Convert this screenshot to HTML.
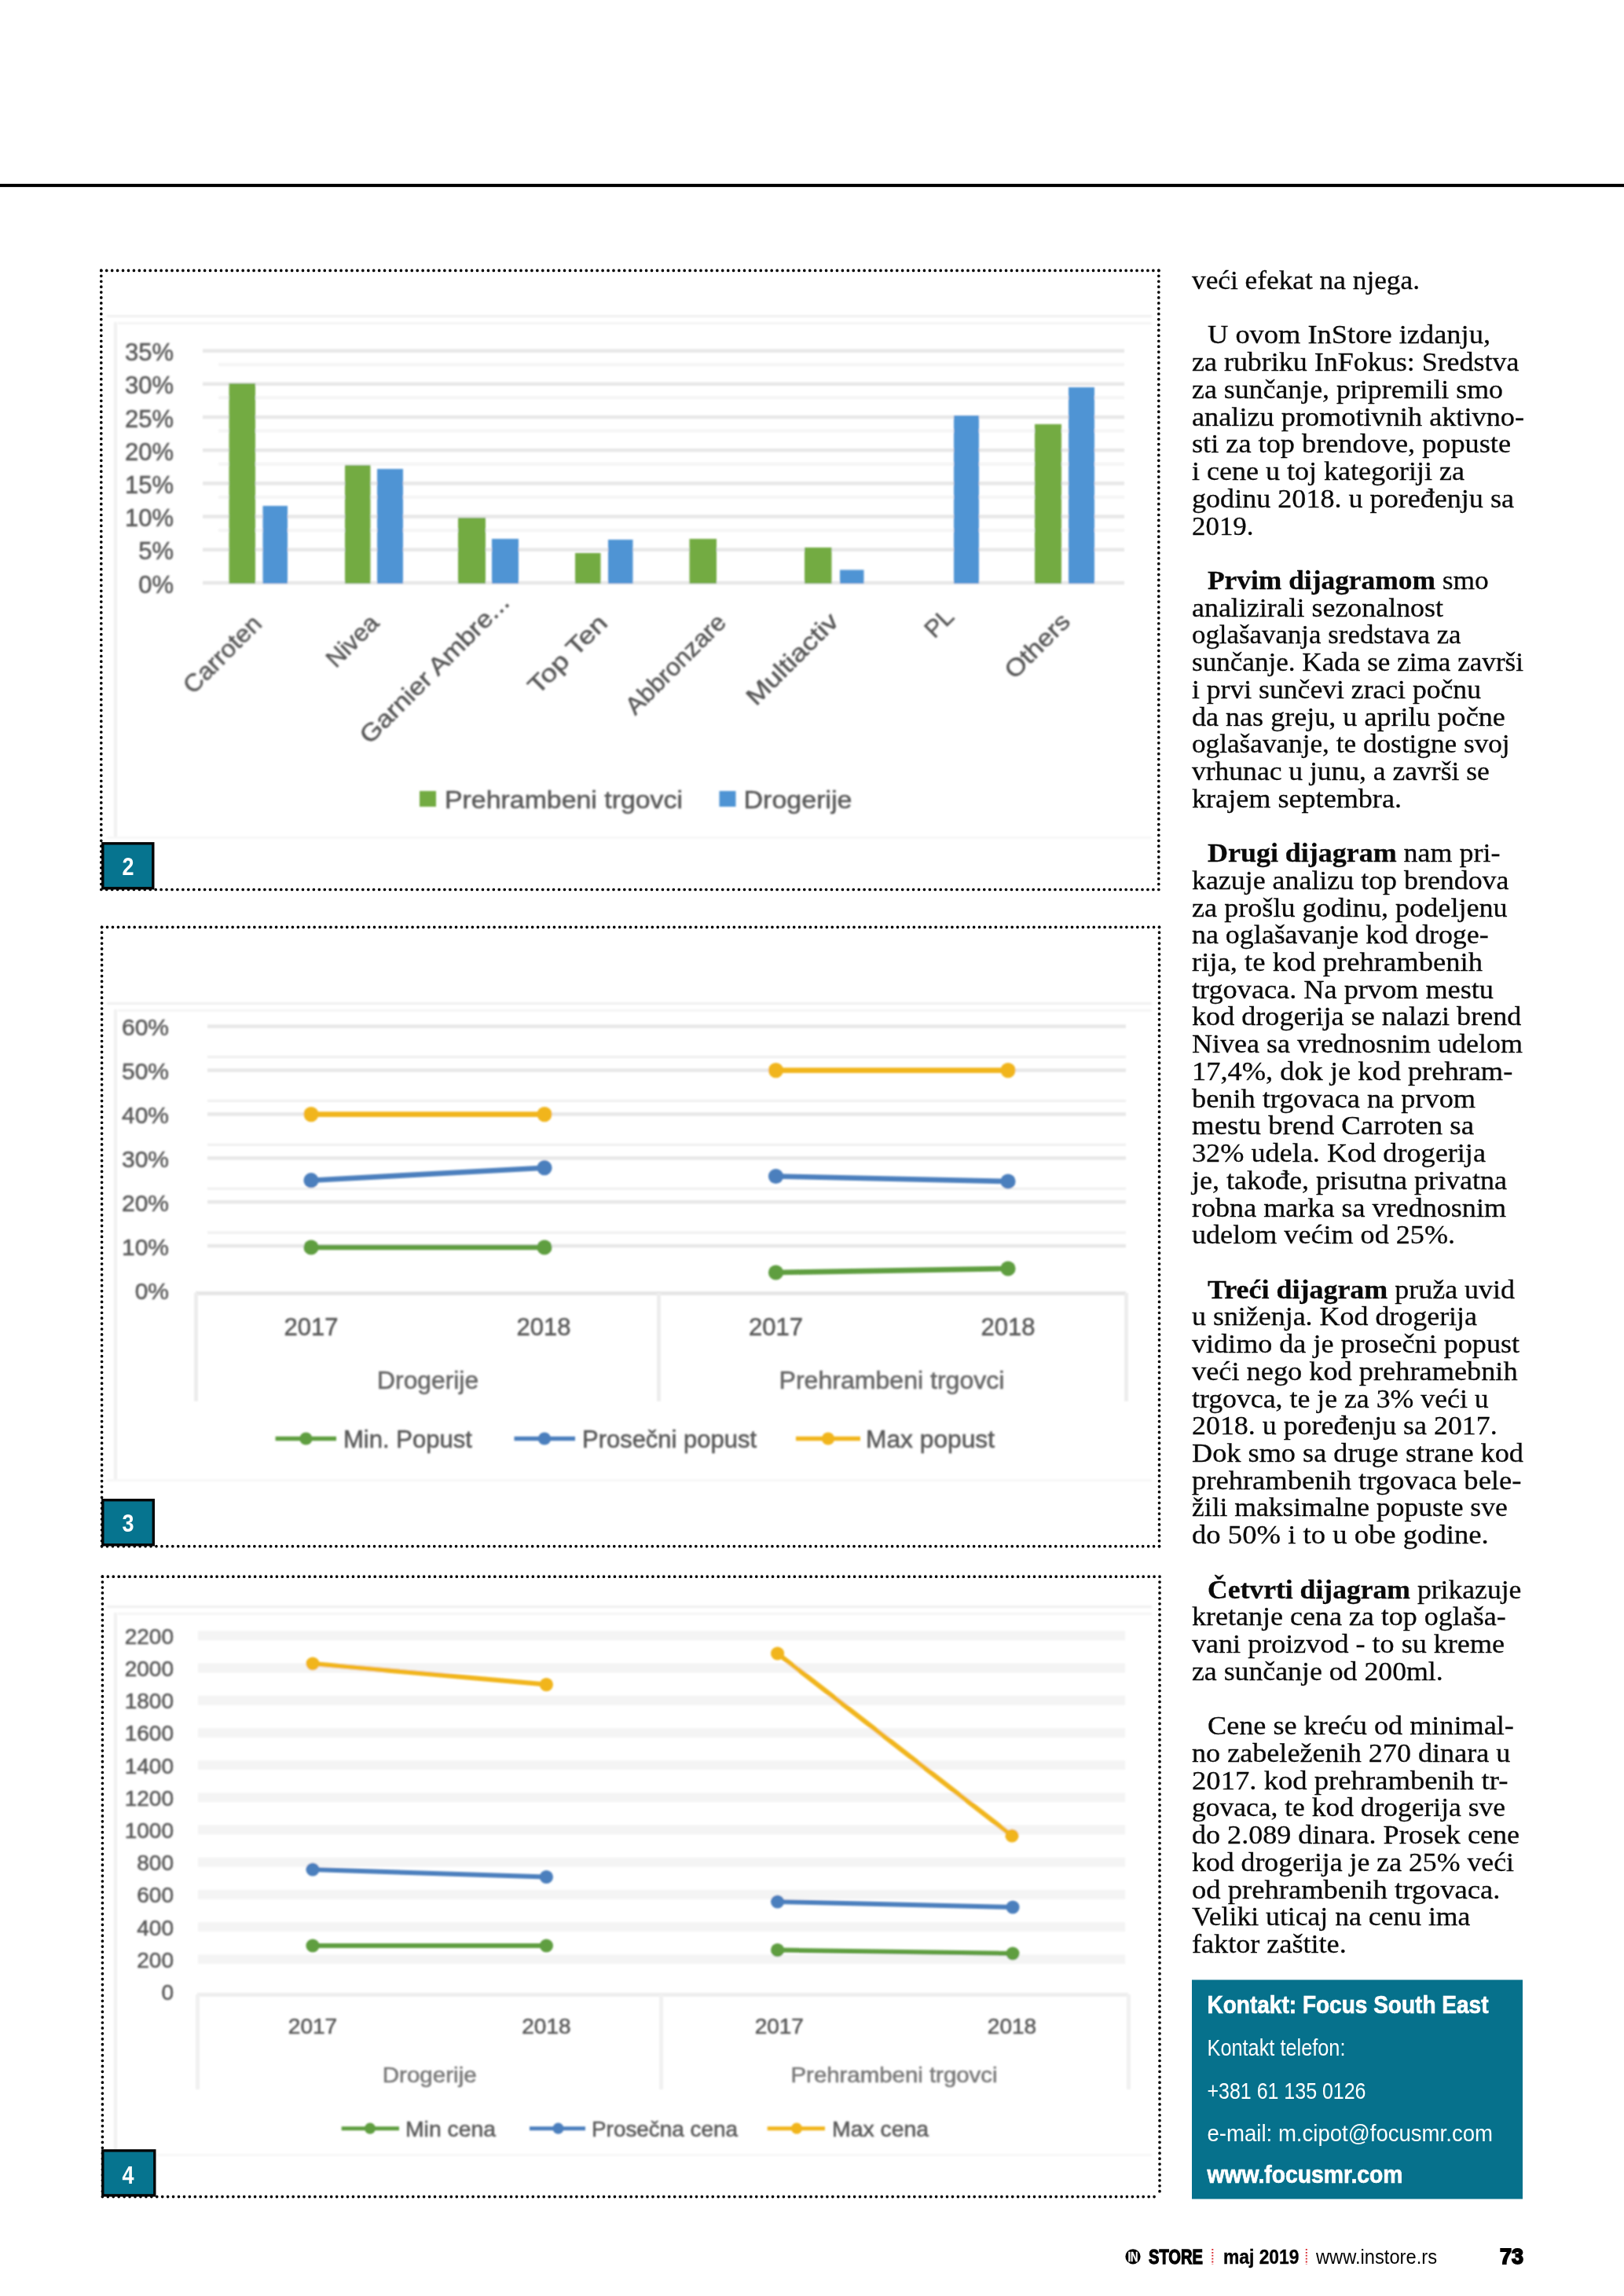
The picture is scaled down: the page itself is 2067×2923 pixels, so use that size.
<!DOCTYPE html>
<html lang="sr">
<head>
<meta charset="utf-8">
<title>InStore maj 2019 - InFokus: Sredstva za sunčanje</title>
<style>
html,body{margin:0;padding:0;background:#fff;}
html{width:2067px;height:2923px;}
body{width:2067px;height:2923px;position:relative;}
svg{position:absolute;left:0;top:0;display:block;}
.ss{font-family:'Liberation Sans', sans-serif;}
.sf{font-family:'Liberation Serif', serif;}
</style>
</head>
<body>
<svg width="2067" height="2923" viewBox="0 0 2067 2923">
<defs>
<filter id="bl" x="-2%" y="-2%" width="104%" height="104%"><feGaussianBlur stdDeviation="1.1"/></filter>
<filter id="bt" x="-2%" y="-2%" width="104%" height="104%"><feGaussianBlur stdDeviation="0.9"/></filter>
</defs>
<rect x="0" y="0" width="2067" height="2923" fill="#fff"/>
<rect x="0" y="234" width="2067" height="4.1" fill="#000"/>

<g filter="url(#bl)">
<rect x="136" y="401" width="1330" height="3" fill="#f0f0f0"/><rect x="150" y="410" width="1316" height="3" fill="#f4f4f4"/><rect x="145" y="410" width="4" height="655" fill="#f1f1f1"/><rect x="136" y="1065" width="1330" height="3" fill="#f7f7f7"/>
<rect x="258" y="739.8" width="1173" height="4.4" fill="#e7e7e7"/>
<rect x="258" y="697.6" width="1173" height="4.4" fill="#e7e7e7"/>
<rect x="258" y="655.4" width="1173" height="4.4" fill="#e7e7e7"/>
<rect x="258" y="613.2" width="1173" height="4.4" fill="#e7e7e7"/>
<rect x="258" y="571.0" width="1173" height="4.4" fill="#e7e7e7"/>
<rect x="258" y="528.8" width="1173" height="4.4" fill="#e7e7e7"/>
<rect x="258" y="486.6" width="1173" height="4.4" fill="#e7e7e7"/>
<rect x="258" y="444.4" width="1173" height="4.4" fill="#e7e7e7"/>
<rect x="278" y="673.1" width="1153" height="4" fill="#f5f5f5"/>
<rect x="278" y="630.9" width="1153" height="4" fill="#f5f5f5"/>
<rect x="278" y="588.7" width="1153" height="4" fill="#f5f5f5"/>
<rect x="278" y="546.5" width="1153" height="4" fill="#f5f5f5"/>
<rect x="278" y="504.3" width="1153" height="4" fill="#f5f5f5"/>
<rect x="278" y="462.1" width="1153" height="4" fill="#f5f5f5"/>
<rect x="291.5" y="488" width="33.5" height="255.0" fill="#73ab42"/>
<rect x="334.5" y="644" width="31.5" height="99.0" fill="#4f94d4"/>
<rect x="439" y="592" width="32.5" height="151.0" fill="#73ab42"/>
<rect x="480" y="597" width="33.0" height="146.0" fill="#4f94d4"/>
<rect x="583" y="659" width="35.0" height="84.0" fill="#73ab42"/>
<rect x="626" y="686" width="34.0" height="57.0" fill="#4f94d4"/>
<rect x="732" y="704" width="32.5" height="39.0" fill="#73ab42"/>
<rect x="774" y="687" width="31.5" height="56.0" fill="#4f94d4"/>
<rect x="877.5" y="686" width="34.5" height="57.0" fill="#73ab42"/>
<rect x="1024" y="697" width="34.5" height="46.0" fill="#73ab42"/>
<rect x="1069" y="725.5" width="30.5" height="17.5" fill="#4f94d4"/>
<rect x="1214" y="529" width="32.0" height="214.0" fill="#4f94d4"/>
<rect x="1317" y="540" width="34.0" height="203.0" fill="#73ab42"/>
<rect x="1360" y="493" width="33.0" height="250.0" fill="#4f94d4"/>
</g>
<g filter="url(#bt)">
<text class="ss" x="221.0" y="754.5" font-size="31" fill="#595959" text-anchor="end" stroke="#595959" stroke-width="0.55">0%</text>
<text class="ss" x="221.0" y="712.3" font-size="31" fill="#595959" text-anchor="end" stroke="#595959" stroke-width="0.55">5%</text>
<text class="ss" x="221.0" y="670.1" font-size="31" fill="#595959" text-anchor="end" stroke="#595959" stroke-width="0.55">10%</text>
<text class="ss" x="221.0" y="627.9" font-size="31" fill="#595959" text-anchor="end" stroke="#595959" stroke-width="0.55">15%</text>
<text class="ss" x="221.0" y="585.7" font-size="31" fill="#595959" text-anchor="end" stroke="#595959" stroke-width="0.55">20%</text>
<text class="ss" x="221.0" y="543.5" font-size="31" fill="#595959" text-anchor="end" stroke="#595959" stroke-width="0.55">25%</text>
<text class="ss" x="221.0" y="501.3" font-size="31" fill="#595959" text-anchor="end" stroke="#595959" stroke-width="0.55">30%</text>
<text class="ss" x="221.0" y="459.1" font-size="31" fill="#595959" text-anchor="end" stroke="#595959" stroke-width="0.55">35%</text>
<text class="ss" font-size="31" fill="#595959" stroke="#595959" stroke-width="0.55" x="-126" y="0" textLength="126" lengthAdjust="spacingAndGlyphs" transform="translate(335 796) rotate(-45)">Carroten</text>
<text class="ss" font-size="31" fill="#595959" stroke="#595959" stroke-width="0.55" x="-80" y="0" textLength="80" lengthAdjust="spacingAndGlyphs" transform="translate(484 795) rotate(-45)">Nivea</text>
<text class="ss" font-size="31" fill="#595959" stroke="#595959" stroke-width="0.55" x="-254" y="0" textLength="254" lengthAdjust="spacingAndGlyphs" transform="translate(650 769) rotate(-45)">Garnier Ambre...</text>
<text class="ss" font-size="31" fill="#595959" stroke="#595959" stroke-width="0.55" x="-128" y="0" textLength="128" lengthAdjust="spacingAndGlyphs" transform="translate(775 795) rotate(-45)">Top Ten</text>
<text class="ss" font-size="31" fill="#595959" stroke="#595959" stroke-width="0.55" x="-166" y="0" textLength="166" lengthAdjust="spacingAndGlyphs" transform="translate(926 794) rotate(-45)">Abbronzare</text>
<text class="ss" font-size="31" fill="#595959" stroke="#595959" stroke-width="0.55" x="-151" y="0" textLength="151" lengthAdjust="spacingAndGlyphs" transform="translate(1069 793) rotate(-45)">Multiactiv</text>
<text class="ss" font-size="31" fill="#595959" stroke="#595959" stroke-width="0.55" x="-38" y="0" textLength="38" lengthAdjust="spacingAndGlyphs" transform="translate(1216 787) rotate(-45)">PL</text>
<text class="ss" font-size="31" fill="#595959" stroke="#595959" stroke-width="0.55" x="-103" y="0" textLength="103" lengthAdjust="spacingAndGlyphs" transform="translate(1364 793) rotate(-45)">Others</text>
<rect x="534" y="1007" width="21" height="20" fill="#73ab42"/>
<text class="ss" x="566.0" y="1029.0" font-size="32" fill="#595959" textLength="303.0" lengthAdjust="spacingAndGlyphs" stroke="#595959" stroke-width="0.55">Prehrambeni trgovci</text>
<rect x="915.5" y="1007" width="21" height="20" fill="#4f94d4"/>
<text class="ss" x="946.5" y="1029.0" font-size="32" fill="#595959" textLength="138.0" lengthAdjust="spacingAndGlyphs" stroke="#595959" stroke-width="0.55">Drogerije</text>
</g>
<g filter="url(#bl)">
<rect x="136" y="1276" width="1330" height="3" fill="#f0f0f0"/><rect x="150" y="1285" width="1316" height="3" fill="#f4f4f4"/><rect x="145" y="1285" width="4" height="598" fill="#f1f1f1"/><rect x="136" y="1883" width="1330" height="3" fill="#f7f7f7"/>
<rect x="264" y="1583.9" width="1169" height="4.4" fill="#e7e7e7"/>
<rect x="264" y="1528.0" width="1169" height="4.4" fill="#e7e7e7"/>
<rect x="264" y="1472.1" width="1169" height="4.4" fill="#e7e7e7"/>
<rect x="264" y="1416.2" width="1169" height="4.4" fill="#e7e7e7"/>
<rect x="264" y="1360.3" width="1169" height="4.4" fill="#e7e7e7"/>
<rect x="264" y="1304.4" width="1169" height="4.4" fill="#e7e7e7"/>
<rect x="264" y="1567.6" width="1169" height="3" fill="#efefef"/>
<rect x="264" y="1511.7" width="1169" height="3" fill="#efefef"/>
<rect x="264" y="1455.8" width="1169" height="3" fill="#efefef"/>
<rect x="264" y="1399.9" width="1169" height="3" fill="#efefef"/>
<rect x="264" y="1344.0" width="1169" height="3" fill="#efefef"/>
<rect x="249" y="1644.0" width="1184" height="5" fill="#e6e6e6"/>
<rect x="247" y="1646" width="5" height="138" fill="#ededed"/>
<rect x="836" y="1646" width="5" height="138" fill="#ededed"/>
<rect x="1431" y="1646" width="5" height="138" fill="#ededed"/>
<line x1="396" y1="1418.6" x2="693" y2="1418.6" stroke="#f1b51c" stroke-width="6.6" stroke-linecap="round"/>
<circle cx="396" cy="1418.6" r="9.6" fill="#f1b51c"/><circle cx="693" cy="1418.6" r="9.6" fill="#f1b51c"/>
<line x1="396" y1="1502.7" x2="693" y2="1486.7" stroke="#4b7fbd" stroke-width="6.6" stroke-linecap="round"/>
<circle cx="396" cy="1502.7" r="9.6" fill="#4b7fbd"/><circle cx="693" cy="1486.7" r="9.6" fill="#4b7fbd"/>
<line x1="396" y1="1588" x2="693" y2="1588" stroke="#5f9e40" stroke-width="6.6" stroke-linecap="round"/>
<circle cx="396" cy="1588" r="9.6" fill="#5f9e40"/><circle cx="693" cy="1588" r="9.6" fill="#5f9e40"/>
<line x1="987.5" y1="1362.6" x2="1283" y2="1362.6" stroke="#f1b51c" stroke-width="6.6" stroke-linecap="round"/>
<circle cx="987.5" cy="1362.6" r="9.6" fill="#f1b51c"/><circle cx="1283" cy="1362.6" r="9.6" fill="#f1b51c"/>
<line x1="987.5" y1="1497.5" x2="1283" y2="1504" stroke="#4b7fbd" stroke-width="6.6" stroke-linecap="round"/>
<circle cx="987.5" cy="1497.5" r="9.6" fill="#4b7fbd"/><circle cx="1283" cy="1504" r="9.6" fill="#4b7fbd"/>
<line x1="987.5" y1="1620" x2="1283" y2="1615" stroke="#5f9e40" stroke-width="6.6" stroke-linecap="round"/>
<circle cx="987.5" cy="1620" r="9.6" fill="#5f9e40"/><circle cx="1283" cy="1615" r="9.6" fill="#5f9e40"/>
<line x1="350.6" y1="1831.5" x2="428" y2="1831.5" stroke="#5f9e40" stroke-width="5.6"/>
<circle cx="389.4" cy="1831.5" r="8.1" fill="#5f9e40"/>
<line x1="654.5" y1="1831.5" x2="732" y2="1831.5" stroke="#4b7fbd" stroke-width="5.6"/>
<circle cx="693" cy="1831.5" r="8.1" fill="#4b7fbd"/>
<line x1="1013" y1="1831.5" x2="1095" y2="1831.5" stroke="#f1b51c" stroke-width="5.6"/>
<circle cx="1054" cy="1831.5" r="8.1" fill="#f1b51c"/>
</g>
<g filter="url(#bt)">
<text class="ss" x="215.0" y="1653.5" font-size="30" fill="#595959" text-anchor="end" stroke="#595959" stroke-width="0.55">0%</text>
<text class="ss" x="215.0" y="1597.6" font-size="30" fill="#595959" text-anchor="end" stroke="#595959" stroke-width="0.55">10%</text>
<text class="ss" x="215.0" y="1541.7" font-size="30" fill="#595959" text-anchor="end" stroke="#595959" stroke-width="0.55">20%</text>
<text class="ss" x="215.0" y="1485.8" font-size="30" fill="#595959" text-anchor="end" stroke="#595959" stroke-width="0.55">30%</text>
<text class="ss" x="215.0" y="1429.9" font-size="30" fill="#595959" text-anchor="end" stroke="#595959" stroke-width="0.55">40%</text>
<text class="ss" x="215.0" y="1374.0" font-size="30" fill="#595959" text-anchor="end" stroke="#595959" stroke-width="0.55">50%</text>
<text class="ss" x="215.0" y="1318.1" font-size="30" fill="#595959" text-anchor="end" stroke="#595959" stroke-width="0.55">60%</text>
<text class="ss" x="396.0" y="1700.0" font-size="31" fill="#595959" text-anchor="middle" stroke="#595959" stroke-width="0.55">2017</text>
<text class="ss" x="692.0" y="1700.0" font-size="31" fill="#595959" text-anchor="middle" stroke="#595959" stroke-width="0.55">2018</text>
<text class="ss" x="987.5" y="1700.0" font-size="31" fill="#595959" text-anchor="middle" stroke="#595959" stroke-width="0.55">2017</text>
<text class="ss" x="1283.0" y="1700.0" font-size="31" fill="#595959" text-anchor="middle" stroke="#595959" stroke-width="0.55">2018</text>
<text class="ss" x="480.1" y="1768.0" font-size="31" fill="#666" textLength="129.0" lengthAdjust="spacingAndGlyphs" stroke="#666" stroke-width="0.55">Drogerije</text>
<text class="ss" x="991.5" y="1768.0" font-size="31" fill="#666" textLength="287.0" lengthAdjust="spacingAndGlyphs" stroke="#666" stroke-width="0.55">Prehrambeni trgovci</text>
<text class="ss" x="437.0" y="1842.7" font-size="31" fill="#595959" textLength="164.0" lengthAdjust="spacingAndGlyphs" stroke="#595959" stroke-width="0.55">Min. Popust</text>
<text class="ss" x="741.0" y="1842.7" font-size="31" fill="#595959" textLength="222.0" lengthAdjust="spacingAndGlyphs" stroke="#595959" stroke-width="0.55">Prosečni popust</text>
<text class="ss" x="1102.0" y="1842.7" font-size="31" fill="#595959" textLength="164.0" lengthAdjust="spacingAndGlyphs" stroke="#595959" stroke-width="0.55">Max popust</text>
</g>
<g filter="url(#bl)">
<rect x="136" y="2044" width="1330" height="3" fill="#f0f0f0"/><rect x="150" y="2053" width="1316" height="3" fill="#f4f4f4"/><rect x="145" y="2053" width="4" height="689" fill="#f1f1f1"/><rect x="136" y="2742" width="1330" height="3" fill="#f7f7f7"/>
<rect x="252" y="2488.3" width="1180" height="12" fill="#f4f4f4"/>
<rect x="252" y="2447.1" width="1180" height="12" fill="#f4f4f4"/>
<rect x="252" y="2405.9" width="1180" height="12" fill="#f4f4f4"/>
<rect x="252" y="2364.7" width="1180" height="12" fill="#f4f4f4"/>
<rect x="252" y="2323.5" width="1180" height="12" fill="#f4f4f4"/>
<rect x="252" y="2282.3" width="1180" height="12" fill="#f4f4f4"/>
<rect x="252" y="2241.1" width="1180" height="12" fill="#f4f4f4"/>
<rect x="252" y="2199.9" width="1180" height="12" fill="#f4f4f4"/>
<rect x="252" y="2158.7" width="1180" height="12" fill="#f4f4f4"/>
<rect x="252" y="2117.5" width="1180" height="12" fill="#f4f4f4"/>
<rect x="252" y="2076.3" width="1180" height="12" fill="#f4f4f4"/>
<rect x="251" y="2537.0" width="1185" height="5" fill="#eeeeee"/>
<rect x="249" y="2539" width="5" height="121" fill="#f1f1f1"/>
<rect x="839" y="2539" width="5" height="121" fill="#f1f1f1"/>
<rect x="1434" y="2539" width="5" height="121" fill="#f1f1f1"/>
<line x1="398" y1="2118" x2="695.4" y2="2144.6" stroke="#f1b51c" stroke-width="6" stroke-linecap="round"/>
<circle cx="398" cy="2118" r="8.6" fill="#f1b51c"/><circle cx="695.4" cy="2144.6" r="8.6" fill="#f1b51c"/>
<line x1="398" y1="2380" x2="695.4" y2="2389.5" stroke="#4b7fbd" stroke-width="6" stroke-linecap="round"/>
<circle cx="398" cy="2380" r="8.6" fill="#4b7fbd"/><circle cx="695.4" cy="2389.5" r="8.6" fill="#4b7fbd"/>
<line x1="398" y1="2477" x2="695.4" y2="2477" stroke="#5f9e40" stroke-width="6" stroke-linecap="round"/>
<circle cx="398" cy="2477" r="8.6" fill="#5f9e40"/><circle cx="695.4" cy="2477" r="8.6" fill="#5f9e40"/>
<line x1="989.6" y1="2105" x2="1288" y2="2337" stroke="#f1b51c" stroke-width="6" stroke-linecap="round"/>
<circle cx="989.6" cy="2105" r="8.6" fill="#f1b51c"/><circle cx="1288" cy="2337" r="8.6" fill="#f1b51c"/>
<line x1="989.6" y1="2421" x2="1289" y2="2428" stroke="#4b7fbd" stroke-width="6" stroke-linecap="round"/>
<circle cx="989.6" cy="2421" r="8.6" fill="#4b7fbd"/><circle cx="1289" cy="2428" r="8.6" fill="#4b7fbd"/>
<line x1="989.6" y1="2482.6" x2="1289" y2="2487" stroke="#5f9e40" stroke-width="6" stroke-linecap="round"/>
<circle cx="989.6" cy="2482.6" r="8.6" fill="#5f9e40"/><circle cx="1289" cy="2487" r="8.6" fill="#5f9e40"/>
<line x1="434.7" y1="2709.7" x2="508" y2="2709.7" stroke="#5f9e40" stroke-width="5"/>
<circle cx="471" cy="2709.7" r="7.1" fill="#5f9e40"/>
<line x1="674" y1="2709.7" x2="745" y2="2709.7" stroke="#4b7fbd" stroke-width="5"/>
<circle cx="710.5" cy="2709.7" r="7.1" fill="#4b7fbd"/>
<line x1="976.7" y1="2709.7" x2="1050" y2="2709.7" stroke="#f1b51c" stroke-width="5"/>
<circle cx="1014" cy="2709.7" r="7.1" fill="#f1b51c"/>
</g>
<g filter="url(#bt)">
<text class="ss" x="221.0" y="2546.0" font-size="28" fill="#595959" text-anchor="end" stroke="#595959" stroke-width="0.55">0</text>
<text class="ss" x="221.0" y="2504.8" font-size="28" fill="#595959" text-anchor="end" stroke="#595959" stroke-width="0.55">200</text>
<text class="ss" x="221.0" y="2463.6" font-size="28" fill="#595959" text-anchor="end" stroke="#595959" stroke-width="0.55">400</text>
<text class="ss" x="221.0" y="2422.4" font-size="28" fill="#595959" text-anchor="end" stroke="#595959" stroke-width="0.55">600</text>
<text class="ss" x="221.0" y="2381.2" font-size="28" fill="#595959" text-anchor="end" stroke="#595959" stroke-width="0.55">800</text>
<text class="ss" x="221.0" y="2340.0" font-size="28" fill="#595959" text-anchor="end" stroke="#595959" stroke-width="0.55">1000</text>
<text class="ss" x="221.0" y="2298.8" font-size="28" fill="#595959" text-anchor="end" stroke="#595959" stroke-width="0.55">1200</text>
<text class="ss" x="221.0" y="2257.6" font-size="28" fill="#595959" text-anchor="end" stroke="#595959" stroke-width="0.55">1400</text>
<text class="ss" x="221.0" y="2216.4" font-size="28" fill="#595959" text-anchor="end" stroke="#595959" stroke-width="0.55">1600</text>
<text class="ss" x="221.0" y="2175.2" font-size="28" fill="#595959" text-anchor="end" stroke="#595959" stroke-width="0.55">1800</text>
<text class="ss" x="221.0" y="2134.0" font-size="28" fill="#595959" text-anchor="end" stroke="#595959" stroke-width="0.55">2000</text>
<text class="ss" x="221.0" y="2092.8" font-size="28" fill="#595959" text-anchor="end" stroke="#595959" stroke-width="0.55">2200</text>
<text class="ss" x="398.0" y="2589.0" font-size="28" fill="#595959" text-anchor="middle" stroke="#595959" stroke-width="0.55">2017</text>
<text class="ss" x="695.4" y="2589.0" font-size="28" fill="#595959" text-anchor="middle" stroke="#595959" stroke-width="0.55">2018</text>
<text class="ss" x="991.8" y="2589.0" font-size="28" fill="#595959" text-anchor="middle" stroke="#595959" stroke-width="0.55">2017</text>
<text class="ss" x="1288.0" y="2589.0" font-size="28" fill="#595959" text-anchor="middle" stroke="#595959" stroke-width="0.55">2018</text>
<text class="ss" x="486.7" y="2651.0" font-size="28" fill="#787878" textLength="120.0" lengthAdjust="spacingAndGlyphs" stroke="#787878" stroke-width="0.55">Drogerije</text>
<text class="ss" x="1006.5" y="2651.0" font-size="28" fill="#787878" textLength="263.0" lengthAdjust="spacingAndGlyphs" stroke="#787878" stroke-width="0.55">Prehrambeni trgovci</text>
<text class="ss" x="516.0" y="2719.8" font-size="28" fill="#595959" textLength="115.0" lengthAdjust="spacingAndGlyphs" stroke="#595959" stroke-width="0.55">Min cena</text>
<text class="ss" x="753.0" y="2719.8" font-size="28" fill="#595959" textLength="186.0" lengthAdjust="spacingAndGlyphs" stroke="#595959" stroke-width="0.55">Prosečna cena</text>
<text class="ss" x="1059.0" y="2719.8" font-size="28" fill="#595959" textLength="123.0" lengthAdjust="spacingAndGlyphs" stroke="#595959" stroke-width="0.55">Max cena</text>
</g>
<line x1="128.8" y1="344.4" x2="1474.8" y2="344.4" stroke="#000" stroke-width="3.7" stroke-linecap="round" stroke-dasharray="0 6.9381"/>
<line x1="128.8" y1="1132.5" x2="1474.8" y2="1132.5" stroke="#000" stroke-width="3.7" stroke-linecap="round" stroke-dasharray="0 6.9381"/>
<line x1="128.8" y1="344.4" x2="128.8" y2="1132.5" stroke="#000" stroke-width="3.7" stroke-linecap="round" stroke-dasharray="0 6.9132"/>
<line x1="1474.8" y1="344.4" x2="1474.8" y2="1132.5" stroke="#000" stroke-width="3.7" stroke-linecap="round" stroke-dasharray="0 6.9132"/>
<line x1="129.6" y1="1180.3" x2="1475.5" y2="1180.3" stroke="#000" stroke-width="3.7" stroke-linecap="round" stroke-dasharray="0 6.9376"/>
<line x1="129.6" y1="1968.6" x2="1475.5" y2="1968.6" stroke="#000" stroke-width="3.7" stroke-linecap="round" stroke-dasharray="0 6.9376"/>
<line x1="129.6" y1="1180.3" x2="129.6" y2="1968.6" stroke="#000" stroke-width="3.7" stroke-linecap="round" stroke-dasharray="0 6.9149"/>
<line x1="1475.5" y1="1180.3" x2="1475.5" y2="1968.6" stroke="#000" stroke-width="3.7" stroke-linecap="round" stroke-dasharray="0 6.9149"/>
<line x1="130.4" y1="2007.2" x2="1476.0" y2="2007.2" stroke="#000" stroke-width="3.7" stroke-linecap="round" stroke-dasharray="0 6.9361"/>
<line x1="130.4" y1="2796.6" x2="1476.0" y2="2796.6" stroke="#000" stroke-width="3.7" stroke-linecap="round" stroke-dasharray="0 6.9361"/>
<line x1="130.4" y1="2007.2" x2="130.4" y2="2796.6" stroke="#000" stroke-width="3.7" stroke-linecap="round" stroke-dasharray="0 6.9246"/>
<line x1="1476.0" y1="2007.2" x2="1476.0" y2="2796.6" stroke="#000" stroke-width="3.7" stroke-linecap="round" stroke-dasharray="0 6.9246"/>
<rect x="130.8" y="1073.8" width="64" height="57" fill="#06748f" stroke="#050505" stroke-width="3.4"/>
<text class="ss" x="155.5" y="1113.6" font-size="31" font-weight="bold" fill="#fff" textLength="15.0" lengthAdjust="spacingAndGlyphs">2</text>
<rect x="130.8" y="1909.7" width="64.5" height="57" fill="#06748f" stroke="#050505" stroke-width="3.4"/>
<text class="ss" x="155.5" y="1949.6" font-size="31" font-weight="bold" fill="#fff" textLength="15.0" lengthAdjust="spacingAndGlyphs">3</text>
<rect x="130.8" y="2737.9" width="66" height="57" fill="#06748f" stroke="#050505" stroke-width="3.4"/>
<text class="ss" x="155.5" y="2780.0" font-size="31" font-weight="bold" fill="#fff" textLength="15.0" lengthAdjust="spacingAndGlyphs">4</text>
<g>
<text class="sf" x="1517.0" y="368.0" font-size="34" fill="#0a0a0a" textLength="290.0" lengthAdjust="spacingAndGlyphs" stroke="#0a0a0a" stroke-width="0.3">veći efekat na njega.</text>
<text class="sf" x="1537.0" y="437.4" font-size="34" fill="#0a0a0a" textLength="360.0" lengthAdjust="spacingAndGlyphs" stroke="#0a0a0a" stroke-width="0.3">U ovom InStore izdanju,</text>
<text class="sf" x="1517.0" y="472.2" font-size="34" fill="#0a0a0a" textLength="416.5" lengthAdjust="spacingAndGlyphs" stroke="#0a0a0a" stroke-width="0.3">za rubriku InFokus: Sredstva</text>
<text class="sf" x="1517.0" y="506.9" font-size="34" fill="#0a0a0a" textLength="396.0" lengthAdjust="spacingAndGlyphs" stroke="#0a0a0a" stroke-width="0.3">za sunčanje, pripremili smo</text>
<text class="sf" x="1517.0" y="541.6" font-size="34" fill="#0a0a0a" textLength="423.0" lengthAdjust="spacingAndGlyphs" stroke="#0a0a0a" stroke-width="0.3">analizu promotivnih aktivno-</text>
<text class="sf" x="1517.0" y="576.3" font-size="34" fill="#0a0a0a" textLength="406.0" lengthAdjust="spacingAndGlyphs" stroke="#0a0a0a" stroke-width="0.3">sti za top brendove, popuste</text>
<text class="sf" x="1517.0" y="611.0" font-size="34" fill="#0a0a0a" textLength="347.0" lengthAdjust="spacingAndGlyphs" stroke="#0a0a0a" stroke-width="0.3">i cene u toj kategoriji za</text>
<text class="sf" x="1517.0" y="645.8" font-size="34" fill="#0a0a0a" textLength="410.0" lengthAdjust="spacingAndGlyphs" stroke="#0a0a0a" stroke-width="0.3">godinu 2018. u poređenju sa</text>
<text class="sf" x="1517.0" y="680.5" font-size="34" fill="#0a0a0a" textLength="78.5" lengthAdjust="spacingAndGlyphs" stroke="#0a0a0a" stroke-width="0.3">2019.</text>
<text class="sf" x="1537.0" y="749.9" font-size="34" fill="#0a0a0a" textLength="357.7" lengthAdjust="spacingAndGlyphs" stroke="#0a0a0a" stroke-width="0.3"><tspan font-weight="bold">Prvim dijagramom</tspan> smo</text>
<text class="sf" x="1517.0" y="784.6" font-size="34" fill="#0a0a0a" textLength="320.0" lengthAdjust="spacingAndGlyphs" stroke="#0a0a0a" stroke-width="0.3">analizirali sezonalnost</text>
<text class="sf" x="1517.0" y="819.4" font-size="34" fill="#0a0a0a" textLength="342.6" lengthAdjust="spacingAndGlyphs" stroke="#0a0a0a" stroke-width="0.3">oglašavanja sredstava za</text>
<text class="sf" x="1517.0" y="854.1" font-size="34" fill="#0a0a0a" textLength="422.0" lengthAdjust="spacingAndGlyphs" stroke="#0a0a0a" stroke-width="0.3">sunčanje. Kada se zima završi</text>
<text class="sf" x="1517.0" y="888.8" font-size="34" fill="#0a0a0a" textLength="368.0" lengthAdjust="spacingAndGlyphs" stroke="#0a0a0a" stroke-width="0.3">i prvi sunčevi zraci počnu</text>
<text class="sf" x="1517.0" y="923.5" font-size="34" fill="#0a0a0a" textLength="398.7" lengthAdjust="spacingAndGlyphs" stroke="#0a0a0a" stroke-width="0.3">da nas greju, u aprilu počne</text>
<text class="sf" x="1517.0" y="958.2" font-size="34" fill="#0a0a0a" textLength="404.6" lengthAdjust="spacingAndGlyphs" stroke="#0a0a0a" stroke-width="0.3">oglašavanje, te dostigne svoj</text>
<text class="sf" x="1517.0" y="993.0" font-size="34" fill="#0a0a0a" textLength="378.8" lengthAdjust="spacingAndGlyphs" stroke="#0a0a0a" stroke-width="0.3">vrhunac u junu, a završi se</text>
<text class="sf" x="1517.0" y="1027.7" font-size="34" fill="#0a0a0a" textLength="267.0" lengthAdjust="spacingAndGlyphs" stroke="#0a0a0a" stroke-width="0.3">krajem septembra.</text>
<text class="sf" x="1537.0" y="1097.1" font-size="34" fill="#0a0a0a" textLength="372.4" lengthAdjust="spacingAndGlyphs" stroke="#0a0a0a" stroke-width="0.3"><tspan font-weight="bold">Drugi dijagram</tspan> nam pri-</text>
<text class="sf" x="1517.0" y="1131.8" font-size="34" fill="#0a0a0a" textLength="403.5" lengthAdjust="spacingAndGlyphs" stroke="#0a0a0a" stroke-width="0.3">kazuje analizu top brendova</text>
<text class="sf" x="1517.0" y="1166.6" font-size="34" fill="#0a0a0a" textLength="401.7" lengthAdjust="spacingAndGlyphs" stroke="#0a0a0a" stroke-width="0.3">za prošlu godinu, podeljenu</text>
<text class="sf" x="1517.0" y="1201.3" font-size="34" fill="#0a0a0a" textLength="377.7" lengthAdjust="spacingAndGlyphs" stroke="#0a0a0a" stroke-width="0.3">na oglašavanje kod droge-</text>
<text class="sf" x="1517.0" y="1236.0" font-size="34" fill="#0a0a0a" textLength="370.0" lengthAdjust="spacingAndGlyphs" stroke="#0a0a0a" stroke-width="0.3">rija, te kod prehrambenih</text>
<text class="sf" x="1517.0" y="1270.7" font-size="34" fill="#0a0a0a" textLength="384.0" lengthAdjust="spacingAndGlyphs" stroke="#0a0a0a" stroke-width="0.3">trgovaca. Na prvom mestu</text>
<text class="sf" x="1517.0" y="1305.4" font-size="34" fill="#0a0a0a" textLength="419.4" lengthAdjust="spacingAndGlyphs" stroke="#0a0a0a" stroke-width="0.3">kod drogerija se nalazi brend</text>
<text class="sf" x="1517.0" y="1340.2" font-size="34" fill="#0a0a0a" textLength="421.0" lengthAdjust="spacingAndGlyphs" stroke="#0a0a0a" stroke-width="0.3">Nivea sa vrednosnim udelom</text>
<text class="sf" x="1517.0" y="1374.9" font-size="34" fill="#0a0a0a" textLength="408.3" lengthAdjust="spacingAndGlyphs" stroke="#0a0a0a" stroke-width="0.3">17,4%, dok je kod prehram-</text>
<text class="sf" x="1517.0" y="1409.6" font-size="34" fill="#0a0a0a" textLength="361.0" lengthAdjust="spacingAndGlyphs" stroke="#0a0a0a" stroke-width="0.3">benih trgovaca na prvom</text>
<text class="sf" x="1517.0" y="1444.3" font-size="34" fill="#0a0a0a" textLength="359.0" lengthAdjust="spacingAndGlyphs" stroke="#0a0a0a" stroke-width="0.3">mestu brend Carroten sa</text>
<text class="sf" x="1517.0" y="1479.0" font-size="34" fill="#0a0a0a" textLength="374.0" lengthAdjust="spacingAndGlyphs" stroke="#0a0a0a" stroke-width="0.3">32% udela. Kod drogerija</text>
<text class="sf" x="1517.0" y="1513.8" font-size="34" fill="#0a0a0a" textLength="401.0" lengthAdjust="spacingAndGlyphs" stroke="#0a0a0a" stroke-width="0.3">je, takođe, prisutna privatna</text>
<text class="sf" x="1517.0" y="1548.5" font-size="34" fill="#0a0a0a" textLength="400.0" lengthAdjust="spacingAndGlyphs" stroke="#0a0a0a" stroke-width="0.3">robna marka sa vrednosnim</text>
<text class="sf" x="1517.0" y="1583.2" font-size="34" fill="#0a0a0a" textLength="335.0" lengthAdjust="spacingAndGlyphs" stroke="#0a0a0a" stroke-width="0.3">udelom većim od 25%.</text>
<text class="sf" x="1537.0" y="1652.6" font-size="34" fill="#0a0a0a" textLength="391.0" lengthAdjust="spacingAndGlyphs" stroke="#0a0a0a" stroke-width="0.3"><tspan font-weight="bold">Treći dijagram</tspan> pruža uvid</text>
<text class="sf" x="1517.0" y="1687.4" font-size="34" fill="#0a0a0a" textLength="363.0" lengthAdjust="spacingAndGlyphs" stroke="#0a0a0a" stroke-width="0.3">u sniženja. Kod drogerija</text>
<text class="sf" x="1517.0" y="1722.1" font-size="34" fill="#0a0a0a" textLength="417.0" lengthAdjust="spacingAndGlyphs" stroke="#0a0a0a" stroke-width="0.3">vidimo da je prosečni popust</text>
<text class="sf" x="1517.0" y="1756.8" font-size="34" fill="#0a0a0a" textLength="414.6" lengthAdjust="spacingAndGlyphs" stroke="#0a0a0a" stroke-width="0.3">veći nego kod prehramebnih</text>
<text class="sf" x="1517.0" y="1791.5" font-size="34" fill="#0a0a0a" textLength="377.7" lengthAdjust="spacingAndGlyphs" stroke="#0a0a0a" stroke-width="0.3">trgovca, te je za 3% veći u</text>
<text class="sf" x="1517.0" y="1826.2" font-size="34" fill="#0a0a0a" textLength="388.7" lengthAdjust="spacingAndGlyphs" stroke="#0a0a0a" stroke-width="0.3">2018. u poređenju sa 2017.</text>
<text class="sf" x="1517.0" y="1861.0" font-size="34" fill="#0a0a0a" textLength="422.0" lengthAdjust="spacingAndGlyphs" stroke="#0a0a0a" stroke-width="0.3">Dok smo sa druge strane kod</text>
<text class="sf" x="1517.0" y="1895.7" font-size="34" fill="#0a0a0a" textLength="419.4" lengthAdjust="spacingAndGlyphs" stroke="#0a0a0a" stroke-width="0.3">prehrambenih trgovaca bele-</text>
<text class="sf" x="1517.0" y="1930.4" font-size="34" fill="#0a0a0a" textLength="401.7" lengthAdjust="spacingAndGlyphs" stroke="#0a0a0a" stroke-width="0.3">žili maksimalne popuste sve</text>
<text class="sf" x="1517.0" y="1965.1" font-size="34" fill="#0a0a0a" textLength="377.7" lengthAdjust="spacingAndGlyphs" stroke="#0a0a0a" stroke-width="0.3">do 50% i to u obe godine.</text>
<text class="sf" x="1537.0" y="2034.6" font-size="34" fill="#0a0a0a" textLength="399.4" lengthAdjust="spacingAndGlyphs" stroke="#0a0a0a" stroke-width="0.3"><tspan font-weight="bold">Četvrti dijagram</tspan> prikazuje</text>
<text class="sf" x="1517.0" y="2069.3" font-size="34" fill="#0a0a0a" textLength="399.8" lengthAdjust="spacingAndGlyphs" stroke="#0a0a0a" stroke-width="0.3">kretanje cena za top oglaša-</text>
<text class="sf" x="1517.0" y="2104.0" font-size="34" fill="#0a0a0a" textLength="398.0" lengthAdjust="spacingAndGlyphs" stroke="#0a0a0a" stroke-width="0.3">vani proizvod - to su kreme</text>
<text class="sf" x="1517.0" y="2138.7" font-size="34" fill="#0a0a0a" textLength="319.7" lengthAdjust="spacingAndGlyphs" stroke="#0a0a0a" stroke-width="0.3">za sunčanje od 200ml.</text>
<text class="sf" x="1537.0" y="2208.2" font-size="34" fill="#0a0a0a" textLength="389.8" lengthAdjust="spacingAndGlyphs" stroke="#0a0a0a" stroke-width="0.3">Cene se kreću od minimal-</text>
<text class="sf" x="1517.0" y="2242.9" font-size="34" fill="#0a0a0a" textLength="405.4" lengthAdjust="spacingAndGlyphs" stroke="#0a0a0a" stroke-width="0.3">no zabeleženih 270 dinara u</text>
<text class="sf" x="1517.0" y="2277.6" font-size="34" fill="#0a0a0a" textLength="402.4" lengthAdjust="spacingAndGlyphs" stroke="#0a0a0a" stroke-width="0.3">2017. kod prehrambenih tr-</text>
<text class="sf" x="1517.0" y="2312.3" font-size="34" fill="#0a0a0a" textLength="399.0" lengthAdjust="spacingAndGlyphs" stroke="#0a0a0a" stroke-width="0.3">govaca, te kod drogerija sve</text>
<text class="sf" x="1517.0" y="2347.0" font-size="34" fill="#0a0a0a" textLength="417.0" lengthAdjust="spacingAndGlyphs" stroke="#0a0a0a" stroke-width="0.3">do 2.089 dinara. Prosek cene</text>
<text class="sf" x="1517.0" y="2381.8" font-size="34" fill="#0a0a0a" textLength="410.0" lengthAdjust="spacingAndGlyphs" stroke="#0a0a0a" stroke-width="0.3">kod drogerija je za 25% veći</text>
<text class="sf" x="1517.0" y="2416.5" font-size="34" fill="#0a0a0a" textLength="392.4" lengthAdjust="spacingAndGlyphs" stroke="#0a0a0a" stroke-width="0.3">od prehrambenih trgovaca.</text>
<text class="sf" x="1517.0" y="2451.2" font-size="34" fill="#0a0a0a" textLength="354.4" lengthAdjust="spacingAndGlyphs" stroke="#0a0a0a" stroke-width="0.3">Veliki uticaj na cenu ima</text>
<text class="sf" x="1517.0" y="2485.9" font-size="34" fill="#0a0a0a" textLength="196.7" lengthAdjust="spacingAndGlyphs" stroke="#0a0a0a" stroke-width="0.3">faktor zaštite.</text>
</g>
<rect x="1517" y="2520.5" width="421" height="279" fill="#06718c"/>
<text class="ss" x="1536.5" y="2563.0" font-size="31" font-weight="bold" fill="#fff" textLength="358.0" lengthAdjust="spacingAndGlyphs" stroke="#fff" stroke-width="0.7">Kontakt: Focus South East</text>
<text class="ss" x="1536.5" y="2617.4" font-size="29.5" fill="#fff" textLength="176.0" lengthAdjust="spacingAndGlyphs">Kontakt telefon:</text>
<text class="ss" x="1536.5" y="2672.0" font-size="29.5" fill="#fff" textLength="202.0" lengthAdjust="spacingAndGlyphs">+381 61 135 0126</text>
<text class="ss" x="1536.5" y="2725.7" font-size="29.5" fill="#fff" textLength="363.5" lengthAdjust="spacingAndGlyphs">e-mail: m.cipot@focusmr.com</text>
<text class="ss" x="1536.5" y="2779.0" font-size="31" font-weight="bold" fill="#fff" textLength="249.0" lengthAdjust="spacingAndGlyphs" stroke="#fff" stroke-width="0.7">www.focusmr.com</text>
<circle cx="1442" cy="2872.8" r="9.6" fill="#000"/>
<text class="ss" x="1435.4" y="2878.9" font-size="17" font-weight="bold" fill="#fff" textLength="13.2" lengthAdjust="spacingAndGlyphs" stroke="#fff" stroke-width="0.3">IN</text>
<text class="ss" x="1462.0" y="2882.0" font-size="26.5" font-weight="bold" fill="#000" textLength="69.0" lengthAdjust="spacingAndGlyphs" stroke="#000" stroke-width="1.3">STORE</text>
<line x1="1543.3" y1="2863" x2="1543.3" y2="2883" stroke="#d8232a" stroke-width="2" stroke-dasharray="1.8 2.1"/>
<line x1="1662.8" y1="2863" x2="1662.8" y2="2883" stroke="#d8232a" stroke-width="2" stroke-dasharray="1.8 2.1"/>
<text class="ss" x="1557.0" y="2882.0" font-size="26.5" font-weight="bold" fill="#000" textLength="96.4" lengthAdjust="spacingAndGlyphs" stroke="#000" stroke-width="0.4">maj 2019</text>
<text class="ss" x="1675.0" y="2882.0" font-size="26.5" fill="#000" textLength="154.0" lengthAdjust="spacingAndGlyphs">www.instore.rs</text>
<text class="ss" x="1909.0" y="2882.0" font-size="27.5" font-weight="bold" fill="#000" textLength="30.0" lengthAdjust="spacingAndGlyphs" stroke="#000" stroke-width="1.8">73</text>
</svg>
</body>
</html>
